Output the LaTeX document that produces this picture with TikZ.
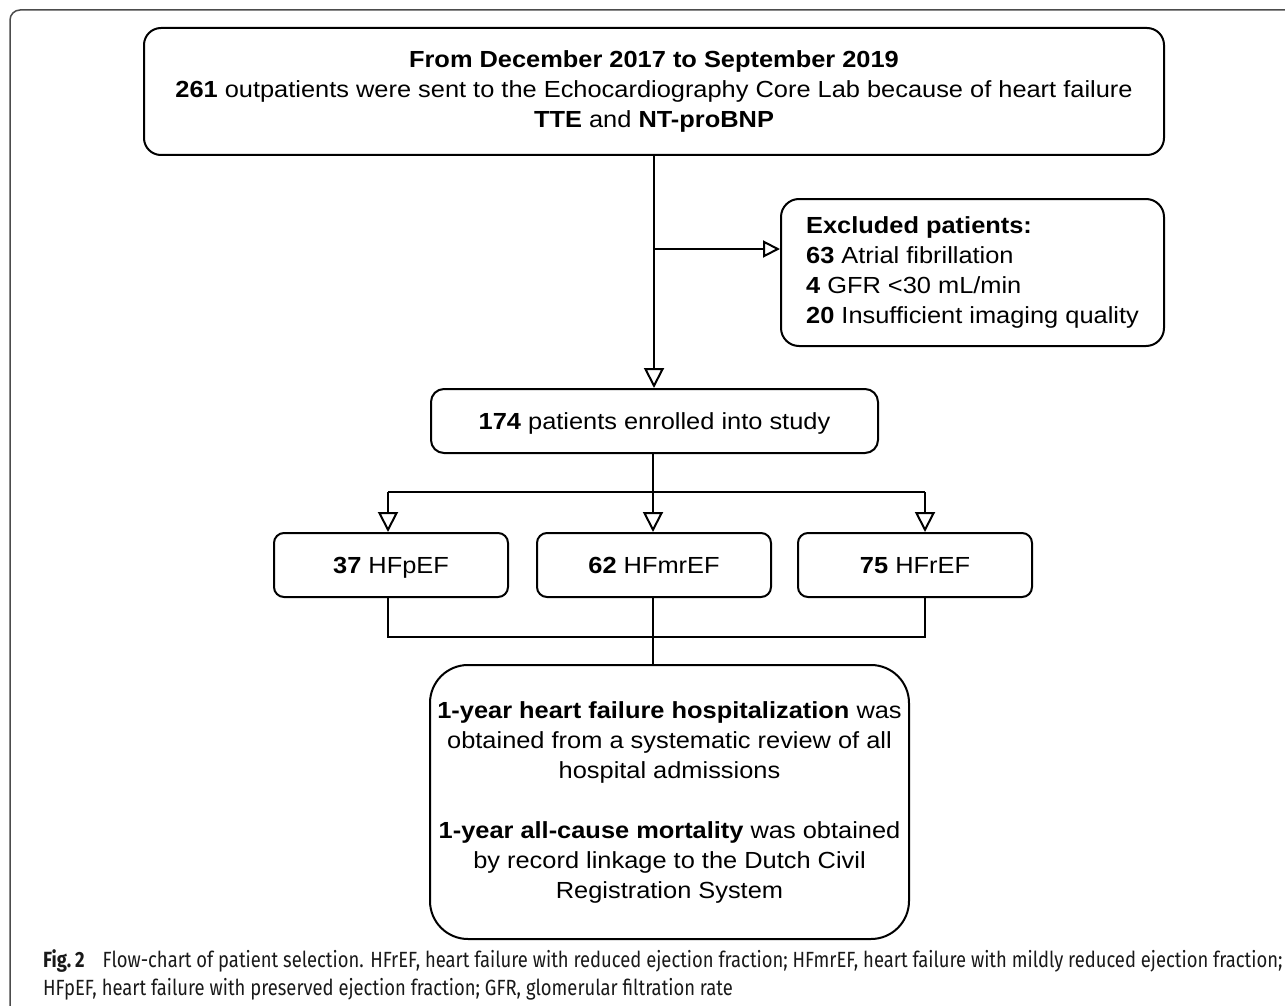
\documentclass[tikz,border=0pt]{standalone}
\usepackage{fontspec}
\setmainfont{Liberation Sans}[FakeStretch=1.09]
\newfontfamily\capfont{Fira Sans}[FakeStretch=0.837]
\usetikzlibrary{arrows.meta}
\begin{document}
\begin{tikzpicture}[x=1pt,y=-1pt,
  box/.style={draw=black, line width=2pt, rounded corners=#1, inner sep=0pt,
    anchor=north west, align=center, font=\fontsize{23.3}{30}\selectfont},
  box/.default=12pt,
  oneline/.style={text height=16.7pt, text depth=0pt},
  ln/.style={draw=black, line width=2pt},
  arr/.style={ln, -{Triangle[open,length=20pt,width=20pt]}},
  arrs/.style={ln, -{Triangle[open,length=17pt,width=17pt]}},
  frame/.style={draw=black!70, line width=1.5pt, rounded corners=10pt},
  captxt/.style={anchor=base west, align=left, inner sep=0pt,
    font=\capfont\fontsize{22}{28}\selectfont, text=black!90}
]
\path[use as bounding box] (0,0) rectangle (1285,1006);
\clip (0,0) rectangle (1285,1006);
\draw[frame] (10,1012) -- (10,10) -- (1295,10);

\node[box=17pt, minimum width=1020pt, minimum height=127pt] (top) at (143,27)
  {\textbf{From December 2017 to September 2019}\\
   \textbf{261} outpatients were sent to the Echocardiography Core Lab because of heart failure\\
   \textbf{TTE} and \textbf{NT-proBNP}};

\node[box=18pt, minimum width=383pt, minimum height=147pt, align=left] (exc) at (780,198)
  {\textbf{Excluded patients:}\\
   \textbf{63} Atrial fibrillation\\
   \textbf{4} GFR <30 mL/min\\
   \textbf{20} Insufficient imaging quality};

\node[box=13pt, oneline, minimum width=447pt, minimum height=64pt] (ent) at (430,388)
  {\textbf{174} patients enrolled into study};

\node[box=10pt, oneline, minimum width=234pt, minimum height=64pt] (hfp) at (273,532)
  {\textbf{37} HFpEF};
\node[box=10pt, oneline, minimum width=234pt, minimum height=64pt] (hfm) at (536,532)
  {\textbf{62} HFmrEF};
\node[box=10pt, oneline, minimum width=234pt, minimum height=64pt] (hfr) at (797,532)
  {\textbf{75} HFrEF};

\node[box=38pt, minimum width=479pt, minimum height=274pt] (big) at (429,664)
  {\textbf{1-year heart failure hospitalization} was\\
   obtained from a systematic review of all\\
   hospital admissions\\[30pt]
   \textbf{1-year all-cause mortality} was obtained\\
   by record linkage to the Dutch Civil\\
   Registration System};

\coordinate (jx) at (653,249);
\coordinate (bl) at (388,492);
\coordinate (bm) at (653,492);
\coordinate (brt) at (925,492);
\coordinate (ml) at (388,637);
\coordinate (mm) at (653,637);
\coordinate (mr) at (925,637);

\draw[arr] (top.south) -- (top.south |- ent.north);
\draw[arrs] (jx) -- (jx -| exc.west);
\draw[ln] (ent.south -| bm) -- (bm);
\draw[ln] (bl) -- (brt);
\draw[arr] (bl) -- (bl |- hfp.north);
\draw[arr] (bm) -- (bm |- hfm.north);
\draw[arr] (brt) -- (brt |- hfr.north);
\draw[ln] (ml |- hfp.south) -- (ml) -- (mr) -- (mr |- hfr.south);
\draw[ln] (mm |- hfm.south) -- (mm |- big.north);

\node[captxt] (cap) at (43,995)
  {\textbf{Fig.\,2}\hspace{0.6em} Flow-chart of patient selection. HFrEF, heart failure with reduced ejection fraction; HFmrEF, heart failure with mildly reduced ejection fraction;\\
   HFpEF, heart failure with preserved ejection fraction; GFR, glomerular filtration rate};
\end{tikzpicture}
\end{document}
